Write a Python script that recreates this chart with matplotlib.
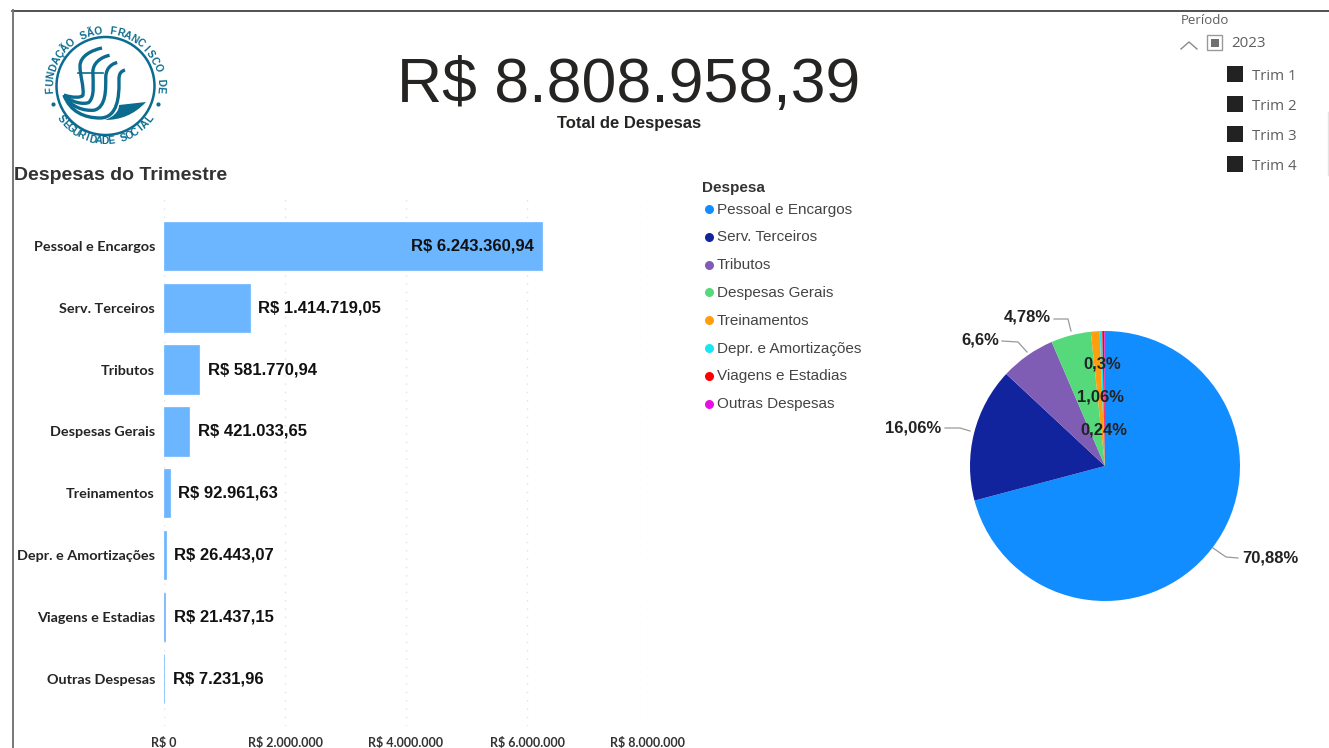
"""Painel de despesas trimestrais - recriacao em matplotlib."""
import numpy as np
import matplotlib
matplotlib.use('Agg')
import matplotlib.pyplot as plt
from matplotlib.patches import Circle, Rectangle, PathPatch
from matplotlib.path import Path

categorias = ['Pessoal e Encargos', 'Serv. Terceiros', 'Tributos', 'Despesas Gerais',
              'Treinamentos', 'Depr. e Amortizações', 'Viagens e Estadias', 'Outras Despesas']
valores = [6243360.94, 1414719.05, 581770.94, 421033.65,
           92961.63, 26443.07, 21437.15, 7231.96]
rotulos_valor = ['R$ 6.243.360,94', 'R$ 1.414.719,05', 'R$ 581.770,94', 'R$ 421.033,65',
                 'R$ 92.961,63', 'R$ 26.443,07', 'R$ 21.437,15', 'R$ 7.231,96']
cores_pizza = ['#118DFF', '#12239E', '#7F5DB5', '#55D97A',
               '#FF9F0F', '#1AE5F0', '#FF0000', '#E60FE6']
cor_barra = '#6CB6FF'
ticks_x = [0, 2000000, 4000000, 6000000, 8000000]
rotulos_x = ['R$ 0', 'R$ 2.000.000', 'R$ 4.000.000', 'R$ 6.000.000', 'R$ 8.000.000']
total = 'R$ 8.808.958,39'
trimestres = ['Trim 1', 'Trim 2', 'Trim 3', 'Trim 4']

W, H = 1329, 748
SANS = 'Liberation Sans'
LOGO = '#0B6C8F'


def px_axes(fig, x0, y0, x1, y1, **kw):
    # retangulo em pixels com origem no topo
    return fig.add_axes([x0 / W, 1 - y1 / H, (x1 - x0) / W, (y1 - y0) / H], **kw)


fig = plt.figure(figsize=(W / 100, H / 100), dpi=100, facecolor='white')

# camada de fundo em pixels
bg = px_axes(fig, 0, 0, W, H)
bg.set_xlim(0, W)
bg.set_ylim(H, 0)
bg.axis('off')
bg.plot([12, W], [10.5, 10.5], color='#333333', lw=1.2)
bg.plot([12.5, 12.5], [10, H], color='#777777', lw=1.4)
bg.plot([1328, 1328], [112, 175], color='#e4e4e4', lw=1)

# ---- logo ----
cx, cy = 105.5, 86
bg.add_patch(Circle((cx, cy), 49, fill=False, ec=LOGO, lw=1.8))


def texto_curvo(txt, a_ini, a_fim, r, cima=True):
    angs = np.linspace(a_ini, a_fim, len(txt))
    for ch, a in zip(txt, angs):
        x = cx + r * np.cos(np.radians(a))
        y = cy - r * np.sin(np.radians(a))
        rot = a - 90 if cima else a + 90
        bg.text(x, y, ch, color=LOGO, fontsize=7.4, fontweight='bold', family=SANS,
                rotation=rot, ha='center', va='center')


texto_curvo('FUNDAÇÃO SÃO FRANCISCO DE', 184, -4, 55)
texto_curvo('SEGURIDADE SOCIAL', -143, -37, 55, cima=False)
for a in (-161, -19):
    bg.plot(cx + 55 * np.cos(np.radians(a)), cy - 55 * np.sin(np.radians(a)),
            'o', color=LOGO, ms=2)

# faixas do simbolo: interpoladas entre a curva interna e a externa
interna = np.array([(102, 48), (92, 50), (80, 56), (80, 66), (80, 76), (84, 86), (83, 95),
                    (82, 98), (72, 98), (64, 95)], dtype=float)
externa = np.array([(125, 70), (118, 72), (119, 78), (119, 84), (119, 95), (118, 118), (100, 118),
                    (85, 118), (70, 112), (64, 95)], dtype=float)
cod_faixa = [Path.MOVETO] + [Path.CURVE4] * 9
for t in (0, 0.33, 0.66, 1):
    bg.add_patch(PathPatch(Path(interna + (externa - interna) * t, cod_faixa),
                           fill=False, ec=LOGO, lw=2.4))
bg.plot([78, 103], [73, 73], color=LOGO, lw=1.2)
onda = [(119, 105), (146, 102), (146, 102), (134, 115), (120, 120), (105, 120), (113, 117), (119, 112), (119, 105)]
cod_onda = [Path.MOVETO, Path.LINETO, Path.LINETO, Path.CURVE4, Path.CURVE4, Path.CURVE4,
            Path.CURVE4, Path.CURVE4, Path.CURVE4]
bg.add_patch(PathPatch(Path(onda, cod_onda), fc=LOGO, ec='none'))

# ---- cartao de total ----
bg.text(629, 85, total, fontsize=45, family=SANS, color='#252423', ha='center', va='center')
bg.text(629, 123.5, 'Total de Despesas', fontsize=12, family=SANS, fontweight='bold',
        color='#252423', ha='center', va='center')

# ---- segmentador de periodo ----
bg.text(1181, 20, 'Período', fontsize=9.5, family='Open Sans', color='#605E5C', va='center')
bg.plot([1181, 1189, 1197], [49, 42, 49], color='#8a8a8a', lw=1)
bg.add_patch(Rectangle((1207, 35), 15, 15, fc='white', ec='#9a9a9a', lw=1))
bg.add_patch(Rectangle((1211, 39), 8, 8, fc='#707070', ec='none'))
bg.text(1231, 43.5, '2023', fontsize=10.8, family='Open Sans', color='#605E5C', va='center')
for i, t in enumerate(trimestres):
    y = 74 + 30 * i
    bg.add_patch(Rectangle((1227, y - 8), 16, 16, fc='#222222', ec='none'))
    bg.text(1252, y + 2, t, fontsize=10.8, family='Open Sans', color='#605E5C', va='center')

# ---- titulo das barras ----
bg.text(14, 175.5, 'Despesas do Trimestre', fontsize=14, family=SANS, fontweight='bold',
        color='#333333', va='center')

# ---- barras ----
ax = px_axes(fig, 164, 196, 648, 726)
ax.patch.set_alpha(0)
pos = np.arange(len(categorias))
ax.barh(pos, valores, height=0.78, color=cor_barra, ec=cor_barra, lw=0.5, zorder=2)
ax.set_xlim(0, 8000000)
ax.set_ylim((726 - 246) / 61.8, (196 - 246) / 61.8)
ax.set_xticks(ticks_x)
ax.set_xticklabels(rotulos_x, fontsize=9, family='Lato', fontweight='bold', color='#333333')
ax.set_yticks(pos)
ax.set_yticklabels(categorias, fontsize=10.4, family='Lato', fontweight='bold', color='#252423')
ax.tick_params(axis='both', length=0)
ax.tick_params(axis='x', pad=8)
ax.tick_params(axis='y', pad=6.5)
ax.grid(axis='x', linestyle=(0, (1, 5)), color='#e2e2e2', lw=1, zorder=0)
for s in ax.spines.values():
    s.set_visible(False)
for i, (v, r) in enumerate(zip(valores, rotulos_valor)):
    if i == 0:
        ax.text(v - 130000, i, r, fontsize=12, family=SANS, fontweight='bold',
                color='#111111', ha='right', va='center', zorder=3)
    else:
        ax.text(v + 140000, i, r, fontsize=12, family=SANS, fontweight='bold',
                color='#111111', ha='left', va='center', zorder=3)

# ---- legenda ----
bg.text(702, 187.5, 'Despesa', fontsize=11, family=SANS, fontweight='bold', color='#333333', va='center')
for i, (c, cor) in enumerate(zip(categorias, cores_pizza)):
    y = 209 + 27.8 * i
    bg.plot(708.5, y, 'o', color=cor, ms=6.5, mec='none')
    bg.text(717, y + 0.5, c, fontsize=11, family=SANS, color='#444444', va='center')

# ---- pizza ----
pie_ax = px_axes(fig, 970, 331, 1240, 601)
pie_ax.pie(valores, colors=cores_pizza, startangle=90, counterclock=False, radius=1)
pie_ax.set_xlim(-1, 1)
pie_ax.set_ylim(-1, 1)

rotulos_pizza = ['70,88%', '16,06%', '6,6%', '4,78%', '0,3%', '1,06%', '0,24%']
pos_rotulos = [(1270, 558), (913, 428), (980, 340), (1027, 317), (1102, 364), (1100, 397), (1104, 430)]
guias = [[(1213, 548), (1226, 557), (1238, 558)],
         [(945, 428), (960, 428), (970, 431)],
         [(1002, 341), (1018, 342), (1027, 352)],
         [(1054, 319), (1068, 319), (1071, 331)]]
for g in guias:
    bg.plot([p[0] for p in g], [p[1] for p in g], color='#999999', lw=0.9)
top = px_axes(fig, 0, 0, W, H)
top.set_xlim(0, W)
top.set_ylim(H, 0)
top.axis('off')
for r, (x, y) in zip(rotulos_pizza, pos_rotulos):
    top.text(x, y, r, fontsize=12, family=SANS, fontweight='bold', color='#222222',
             ha='center', va='center')

plt.savefig('out.png', dpi=100)
